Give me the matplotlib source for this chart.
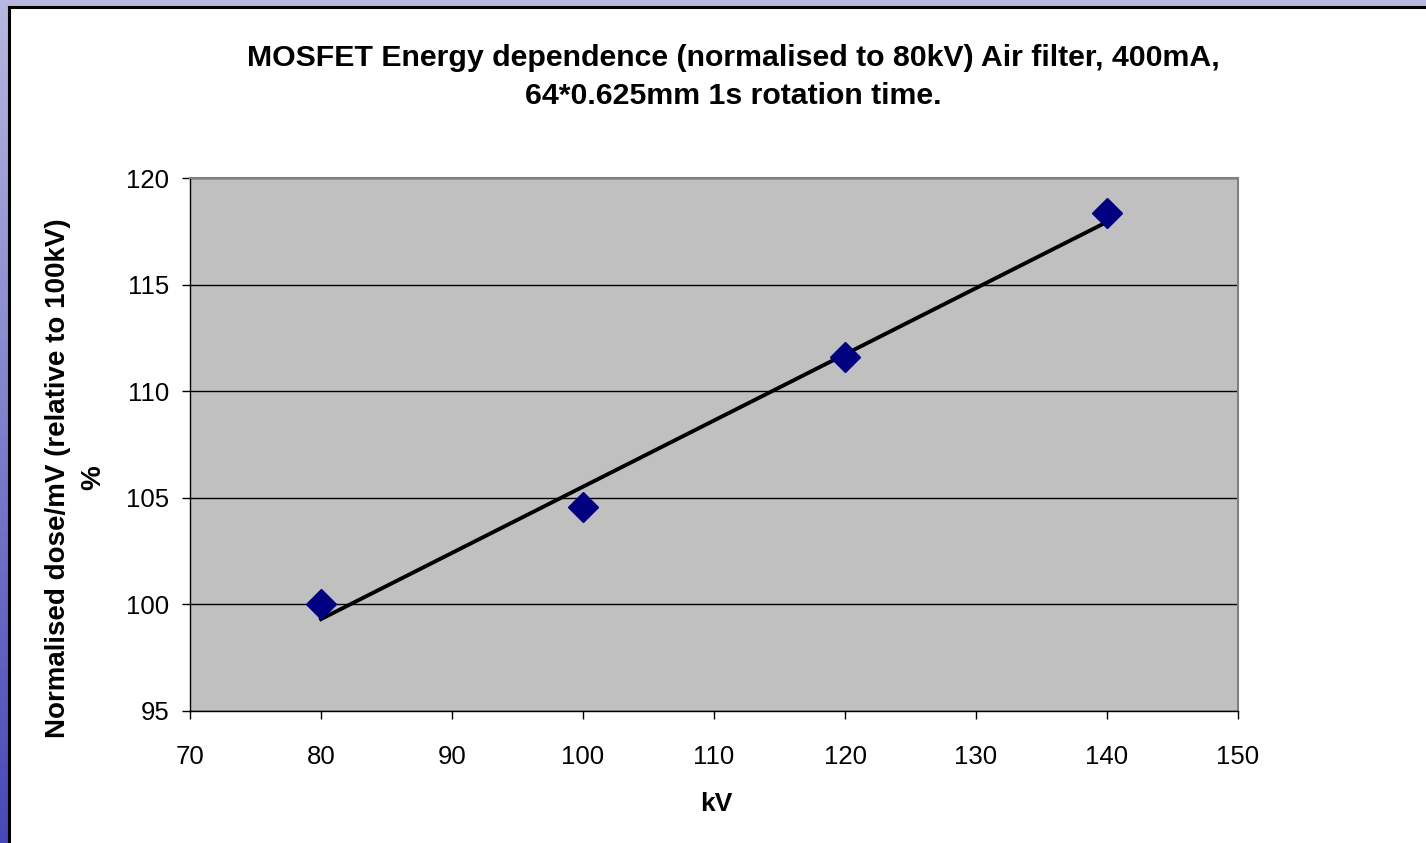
import numpy as np
import matplotlib
matplotlib.use("Agg")
import matplotlib.pyplot as plt
from matplotlib.patches import Rectangle

kv = [80, 100, 120, 140]
dose = [100.0, 104.55, 111.6, 118.35]
x_ticks = [70, 80, 90, 100, 110, 120, 130, 140, 150]
y_ticks = [95, 100, 105, 110, 115, 120]

plt.rcParams['font.family'] = ['Liberation Sans', 'DejaVu Sans']

W, H = 1426, 843
fig = plt.figure(figsize=(W / 100, H / 100), dpi=100)

# background gradient
bg = fig.add_axes([0, 0, 1, 1])
yy = np.linspace(0, 1, 200)[:, None]
c_top = np.array([0.72, 0.72, 0.88])
c_bot = np.array([0.28, 0.28, 0.72])
grad = c_top[None, None, :] * (1 - yy[..., None]) + c_bot[None, None, :] * yy[..., None]
grad = np.broadcast_to(grad, (200, 200, 3))
bg.imshow(grad, aspect='auto', extent=[0, 1, 0, 1], origin='upper')
bg.set_xlim(0, 1)
bg.set_ylim(0, 1)
bg.axis('off')
x0 = 9 / W
y1 = 1 - 7 / H
bg.add_patch(Rectangle((x0, 0), 1 - x0, y1, facecolor='white', edgecolor='none'))
bg.plot([x0, x0], [0, y1], color='black', lw=2.2)
bg.plot([x0, 1], [y1, y1], color='black', lw=2.2)

# plot area: x 190..1238, y 178..711
ax = fig.add_axes([190 / W, 1 - 711 / H, (1238 - 190) / W, (711 - 178) / H])
ax.set_facecolor('#c0c0c0')
ax.set_xlim(70, 150)
ax.set_ylim(95, 120)
ax.set_xticks(x_ticks)
ax.set_yticks(y_ticks)
ax.tick_params(direction='out', length=6, width=1, labelsize=18.5, color='black')
ax.tick_params(axis='y', pad=9)
ax.tick_params(axis='x', pad=18.5)
for s in ['top', 'right']:
    ax.spines[s].set_color('#808080')
    ax.spines[s].set_linewidth(1.5)
for s in ['left', 'bottom']:
    ax.spines[s].set_color('black')
    ax.spines[s].set_linewidth(1)
ax.grid(axis='y', color='black', linewidth=1)
ax.set_axisbelow(True)

# linear trendline
m, b = np.polyfit(kv, dose, 1)
xs = np.array([kv[0], kv[-1]])
ax.plot(xs, m * xs + b, color='black', lw=2.8, zorder=3)
ax.plot(kv, dose, linestyle='none', marker='D', markersize=15,
        color='#000080', zorder=4)

fig.text(733 / W, 1 - 77 / H,
         'MOSFET Energy dependence (normalised to 80kV) Air filter, 400mA,\n64*0.625mm 1s rotation time.',
         ha='center', va='center', fontsize=21.8, fontweight='bold', linespacing=1.45)
fig.text(716 / W, 1 - 804 / H, 'kV', ha='center', va='center', fontsize=19, fontweight='bold')
fig.text(76 / W, 1 - 478 / H, 'Normalised dose/mV (relative to 100kV)\n%',
         ha='center', va='center', rotation=90, fontsize=20, fontweight='bold', linespacing=1.45)

fig.savefig('out.png', dpi=100)
